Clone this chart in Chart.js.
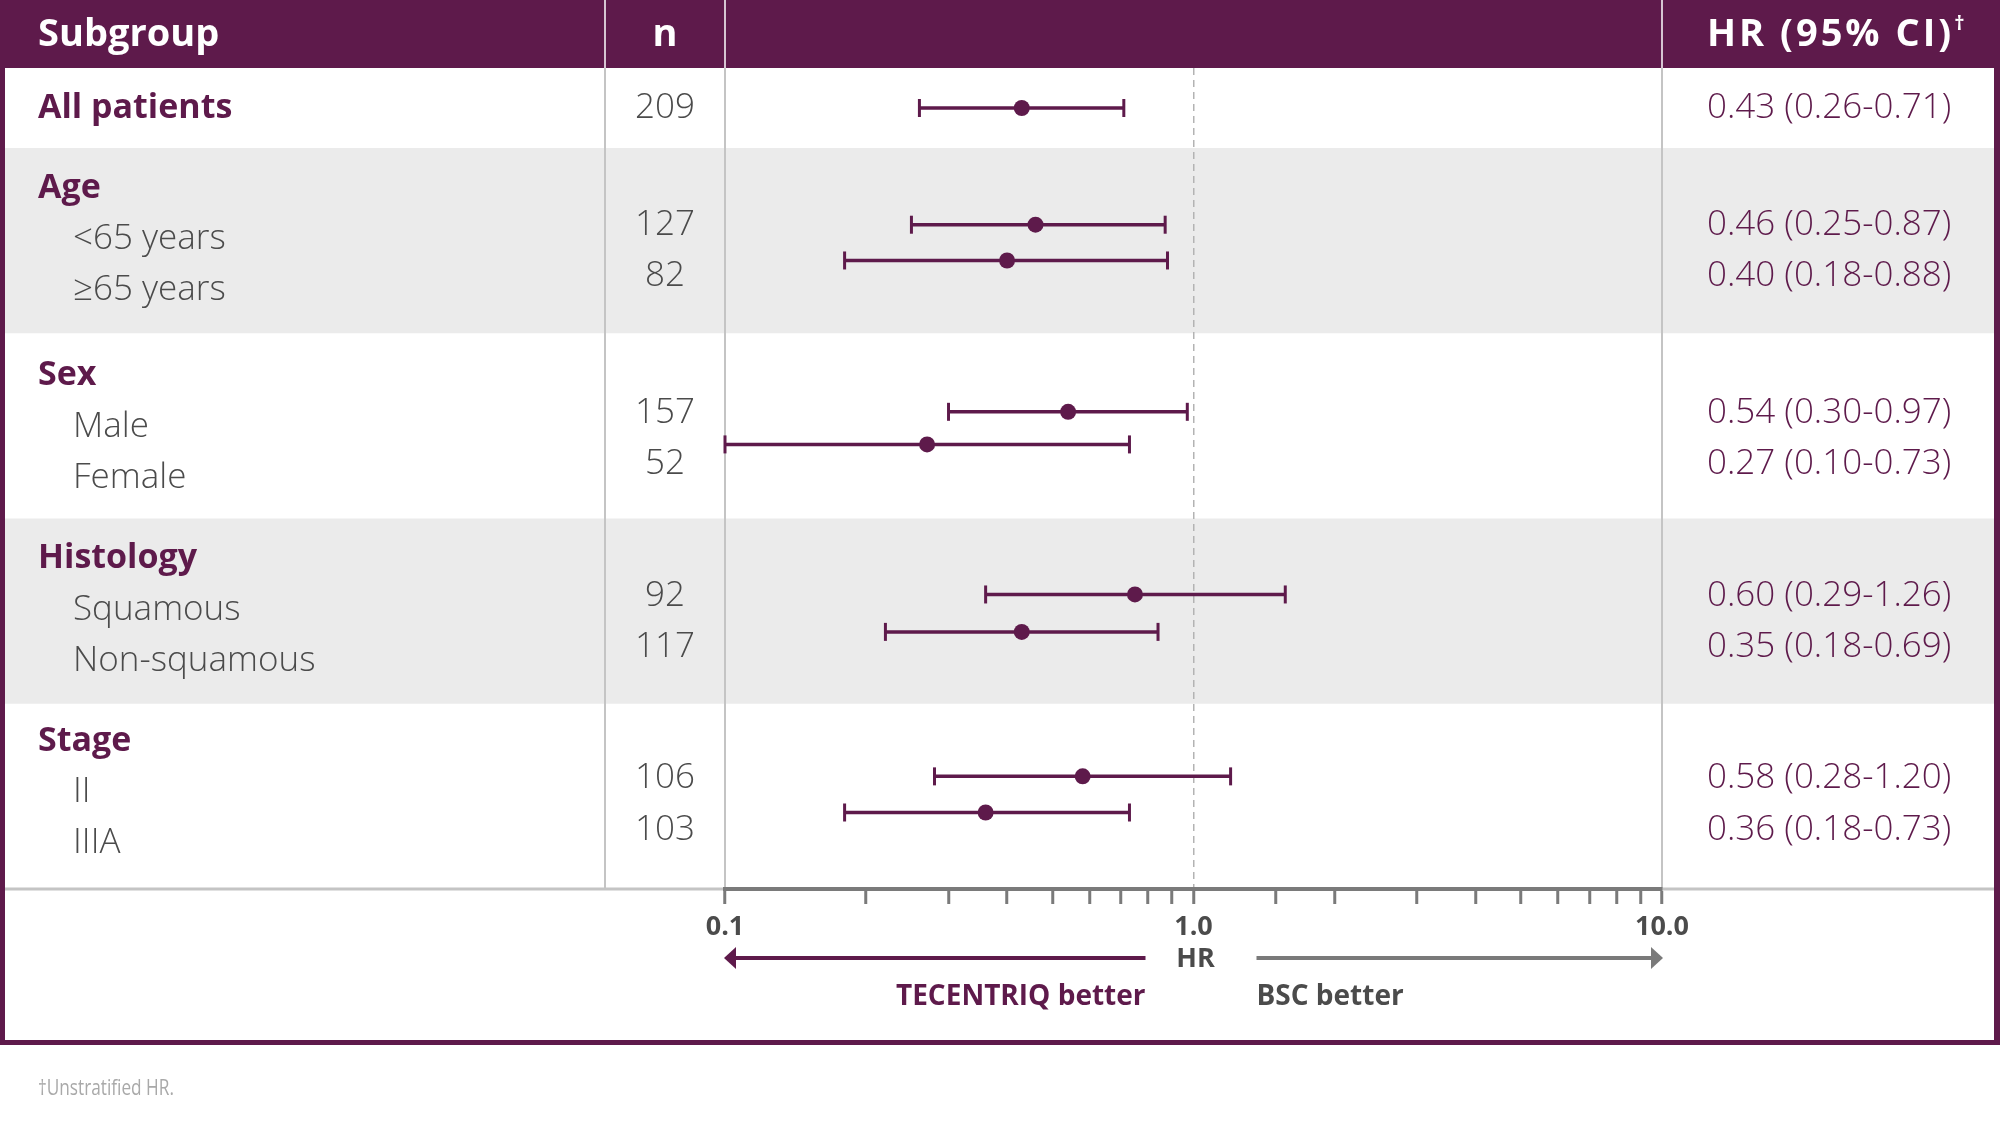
<!DOCTYPE html>
<html><head><meta charset="utf-8">
<script src="https://cdn.jsdelivr.net/npm/chart.js@4.4.1/dist/chart.umd.min.js"></script>
<style>html,body{margin:0;padding:0;background:#fff;}canvas{display:block;}</style>
</head><body>
<canvas id="c" width="2000" height="1127"></canvas>
<script>
// ---------- data ----------
const groupNames = ['All patients', 'Age', 'Sex', 'Histology', 'Stage'];
const subgroupLabels = [[], ['<65 years', '≥65 years'], ['Male', 'Female'], ['Squamous', 'Non-squamous'], ['II', 'IIIA']];
const rowGroup = [0, 1, 1, 2, 2, 3, 3, 4, 4];
const rowSub = [-1, 0, 1, 0, 1, 0, 1, 0, 1];
const nValues = [209, 127, 82, 157, 52, 92, 117, 106, 103];
// values printed in the HR (95% CI) column
const hrValues = [0.43, 0.46, 0.40, 0.54, 0.27, 0.60, 0.35, 0.58, 0.36];
const ciLower = [0.26, 0.25, 0.18, 0.30, 0.10, 0.29, 0.18, 0.28, 0.18];
const ciUpper = [0.71, 0.87, 0.88, 0.97, 0.73, 1.26, 0.69, 1.20, 0.73];
// values where the marks sit in the figure (histology marks differ from the printed numbers)
const hrPlotted = [0.43, 0.46, 0.40, 0.54, 0.27, 0.75, 0.43, 0.58, 0.36];
const loPlotted = [0.26, 0.25, 0.18, 0.30, 0.10, 0.36, 0.22, 0.28, 0.18];
const hiPlotted = [0.71, 0.87, 0.88, 0.97, 0.73, 1.57, 0.84, 1.20, 0.73];
const tickValues = [0.1, 1, 10];
const tickTexts = ['0.1', '1.0', '10.0'];
const headerTexts = ['Subgroup', 'n', 'HR (95% CI)'];
const axisTitle = 'HR';
const leftLabel = 'TECENTRIQ better';
const rightLabel = 'BSC better';
const footnote = '\u2020Unstratified HR.';

// ---------- layout (band units) ----------
const BAND_HEIGHTS = [0.432, 1, 1, 1, 1];
const TOTAL = BAND_HEIGHTS.reduce((a, b) => a + b, 0);
const HEADER_OFF = 0.215;
const LABEL_OFF = [0.493, 0.768];
const VALUE_OFF = [0.416, 0.693];
const TEXT_SHIFT = [0, 0, 0.012, 0, -0.014];
const MARK_OFF = [null, [0.414, 0.607], [0.424, 0.60], [0.41, 0.612], [0.392, 0.587]];

const PURPLE = '#5e1a4b';
const TEXT_GRAY = '#4b4b4b';
const BAND_GRAY = '#ebebeb';
const LINE_GRAY = '#c4c4c4';
const AXIS_GRAY = '#7a7a7a';
const W = 2000, H = 1127;
const FRAME_L = 5, FRAME_R = 1994, FRAME_B = 1040, FRAME_W = 5;
const N_DIV = 605;
const BODY_FONT = "'Open Sans', sans-serif";

function bandTop(g) { let t = 0; for (let k = 0; k < g; k++) t += BAND_HEIGHTS[k]; return t; }
function markY(i) { const g = rowGroup[i], s = rowSub[i]; return s < 0 ? bandTop(g) + BAND_HEIGHTS[g] / 2 : bandTop(g) + MARK_OFF[g][s]; }
function valueY(i) { const g = rowGroup[i], s = rowSub[i]; return s < 0 ? bandTop(g) + BAND_HEIGHTS[g] / 2 : bandTop(g) + VALUE_OFF[s] + TEXT_SHIFT[g]; }
function fmt(v) { return v.toFixed(2); }

const points = hrPlotted.map((v, i) => ({ x: v, y: markY(i), lo: loPlotted[i], hi: hiPlotted[i] }));

const tablePlugin = {
  id: 'forestTable',
  beforeDraw(chart) {
    const { ctx, chartArea: ca, scales: { x, y } } = chart;
    ctx.save();
    ctx.fillStyle = '#fff';
    ctx.fillRect(0, 0, W, H);
    groupNames.forEach((g, gi) => {
      if (gi % 2 === 1) {
        const t = y.getPixelForValue(bandTop(gi));
        const b = y.getPixelForValue(bandTop(gi) + BAND_HEIGHTS[gi]);
        ctx.fillStyle = BAND_GRAY;
        ctx.fillRect(FRAME_L, t, FRAME_R - FRAME_L, b - t);
      }
    });
    ctx.fillStyle = PURPLE;
    ctx.fillRect(0, 0, W, ca.top);
    ctx.lineWidth = 2;
    ctx.strokeStyle = 'rgba(255,255,255,0.75)';
    [N_DIV, ca.left, ca.right].forEach(px => { ctx.beginPath(); ctx.moveTo(px, 0); ctx.lineTo(px, ca.top); ctx.stroke(); });
    ctx.strokeStyle = LINE_GRAY;
    [N_DIV, ca.left, ca.right].forEach(px => { ctx.beginPath(); ctx.moveTo(px, ca.top); ctx.lineTo(px, ca.bottom); ctx.stroke(); });
    ctx.lineWidth = 3;
    ctx.beginPath(); ctx.moveTo(FRAME_L, ca.bottom); ctx.lineTo(FRAME_R, ca.bottom); ctx.stroke();
    ctx.fillStyle = PURPLE;
    ctx.fillRect(0, 0, FRAME_W, FRAME_B + FRAME_W);
    ctx.fillRect(FRAME_R, 0, W - FRAME_R, FRAME_B + FRAME_W);
    ctx.fillRect(0, FRAME_B, W, FRAME_W);

    const hy = ca.top / 2 + 1;
    ctx.fillStyle = '#fff';
    ctx.textBaseline = 'middle';
    ctx.font = "bold 38px " + BODY_FONT;
    ctx.textAlign = 'left';
    ctx.fillText(headerTexts[0], 38, hy);
    ctx.textAlign = 'center';
    ctx.fillText(headerTexts[1], (N_DIV + ca.left) / 2, hy);
    ctx.textAlign = 'left';
    const hx = ca.right + 45;
    ctx.letterSpacing = '3px';
    ctx.fillText(headerTexts[2], hx, hy);
    const hw = ctx.measureText(headerTexts[2]).width;
    ctx.letterSpacing = '0px';
    ctx.font = "bold 20px " + BODY_FONT;
    ctx.fillText('\u2020', hx + hw, hy - 11);

    groupNames.forEach((g, gi) => {
      ctx.fillStyle = PURPLE;
      ctx.font = "bold 34px " + BODY_FONT;
      ctx.textAlign = 'left';
      const gy = subgroupLabels[gi].length ? bandTop(gi) + HEADER_OFF + TEXT_SHIFT[gi] : bandTop(gi) + BAND_HEIGHTS[gi] / 2;
      ctx.fillText(g, 38, y.getPixelForValue(gy));
      ctx.fillStyle = TEXT_GRAY;
      ctx.font = "300 35px " + BODY_FONT;
      subgroupLabels[gi].forEach((s, si) => {
        ctx.fillText(s, 73, y.getPixelForValue(bandTop(gi) + LABEL_OFF[si] + TEXT_SHIFT[gi]));
      });
    });
    nValues.forEach((n, i) => {
      const vy = y.getPixelForValue(valueY(i));
      ctx.font = "300 35px " + BODY_FONT;
      ctx.fillStyle = TEXT_GRAY;
      ctx.textAlign = 'center';
      ctx.fillText(String(n), (N_DIV + ca.left) / 2, vy);
      ctx.fillStyle = PURPLE;
      ctx.textAlign = 'left';
      ctx.fillText(fmt(hrValues[i]) + ' (' + fmt(ciLower[i]) + '-' + fmt(ciUpper[i]) + ')', ca.right + 45, vy);
    });
    ctx.restore();
  },
  beforeDatasetsDraw(chart) {
    const { ctx, scales: { x, y } } = chart;
    ctx.save();
    ctx.strokeStyle = PURPLE;
    points.forEach(p => {
      const py = y.getPixelForValue(p.y);
      const x1 = x.getPixelForValue(p.lo), x2 = x.getPixelForValue(p.hi);
      ctx.lineWidth = 3.5;
      ctx.beginPath(); ctx.moveTo(x1, py); ctx.lineTo(x2, py); ctx.stroke();
      ctx.lineWidth = 3;
      [x1, x2].forEach(px => { ctx.beginPath(); ctx.moveTo(px, py - 9); ctx.lineTo(px, py + 9); ctx.stroke(); });
    });
    ctx.restore();
  },
  afterDraw(chart) {
    const { ctx, chartArea: ca, scales: { x } } = chart;
    ctx.save();
    const x0 = x.getPixelForValue(0.1), x1 = x.getPixelForValue(1), x10 = x.getPixelForValue(10);
    const ay = ca.bottom + 69;
    const leftEnd = x1 - 48, rightStart = x1 + 63;
    ctx.strokeStyle = PURPLE; ctx.fillStyle = PURPLE; ctx.lineWidth = 4;
    ctx.beginPath(); ctx.moveTo(x0 + 8, ay); ctx.lineTo(leftEnd, ay); ctx.stroke();
    ctx.beginPath(); ctx.moveTo(x0 - 1, ay); ctx.lineTo(x0 + 11, ay - 11); ctx.lineTo(x0 + 11, ay + 11); ctx.closePath(); ctx.fill();
    ctx.strokeStyle = AXIS_GRAY; ctx.fillStyle = AXIS_GRAY;
    ctx.beginPath(); ctx.moveTo(rightStart, ay); ctx.lineTo(x10 - 8, ay); ctx.stroke();
    ctx.beginPath(); ctx.moveTo(x10 + 1, ay); ctx.lineTo(x10 - 11, ay - 11); ctx.lineTo(x10 - 11, ay + 11); ctx.closePath(); ctx.fill();
    ctx.textBaseline = 'middle';
    ctx.font = "bold 27px " + BODY_FONT;
    ctx.fillStyle = TEXT_GRAY; ctx.textAlign = 'center';
    ctx.fillText(axisTitle, x1 + 2, ay + 1);
    ctx.font = "bold 28px " + BODY_FONT;
    ctx.fillStyle = PURPLE; ctx.textAlign = 'right';
    ctx.fillText(leftLabel, leftEnd, ay + 39);
    ctx.fillStyle = TEXT_GRAY; ctx.textAlign = 'left';
    ctx.fillText(rightLabel, rightStart, ay + 39);
    ctx.save();
    ctx.translate(38, 1089);
    ctx.scale(0.82, 1);
    ctx.font = "21px " + BODY_FONT;
    ctx.fillStyle = '#a9a9a9';
    ctx.textAlign = 'left';
    ctx.fillText(footnote, 0, 0);
    ctx.restore();
    ctx.restore();
  }
};

new Chart(document.getElementById('c'), {
  type: 'scatter',
  data: {
    datasets: [{
      data: points,
      pointRadius: 8,
      pointHoverRadius: 8,
      pointBackgroundColor: PURPLE,
      pointBorderWidth: 0,
      showLine: false,
      clip: false
    }]
  },
  options: {
    responsive: false,
    animation: false,
    devicePixelRatio: 1,
    events: [],
    layout: { padding: { left: 725, right: W - 1662, top: 68, bottom: H - 889 - 60 } },
    plugins: { legend: { display: false }, tooltip: { enabled: false } },
    scales: {
      x: {
        type: 'logarithmic',
        min: 0.1,
        max: 10,
        position: 'bottom',
        afterFit(s) { s.height = 60; },
        grid: {
          drawOnChartArea: true,
          drawTicks: true,
          color: ctx => (ctx.tick && Math.abs(ctx.tick.value - 1) < 1e-9) ? '#b3b3b3' : 'rgba(0,0,0,0)',
          lineWidth: 1.5,
          tickLength: 15,
          tickColor: AXIS_GRAY,
          tickWidth: 3
        },
        border: { display: true, color: AXIS_GRAY, width: 4, dash: [7, 5] },
        ticks: {
          autoSkip: false,
          maxRotation: 0,
          minRotation: 0,
          padding: 7,
          color: TEXT_GRAY,
          font: { family: "'Open Sans', sans-serif", weight: 'bold', size: 27 },
          callback: (v) => { const k = tickValues.findIndex(t => Math.abs(t - v) < 1e-9); return k >= 0 ? tickTexts[k] : ''; }
        }
      },
      y: {
        type: 'linear',
        display: false,
        min: 0,
        max: TOTAL,
        reverse: true
      }
    }
  },
  plugins: [tablePlugin]
});
</script>
</body></html>
